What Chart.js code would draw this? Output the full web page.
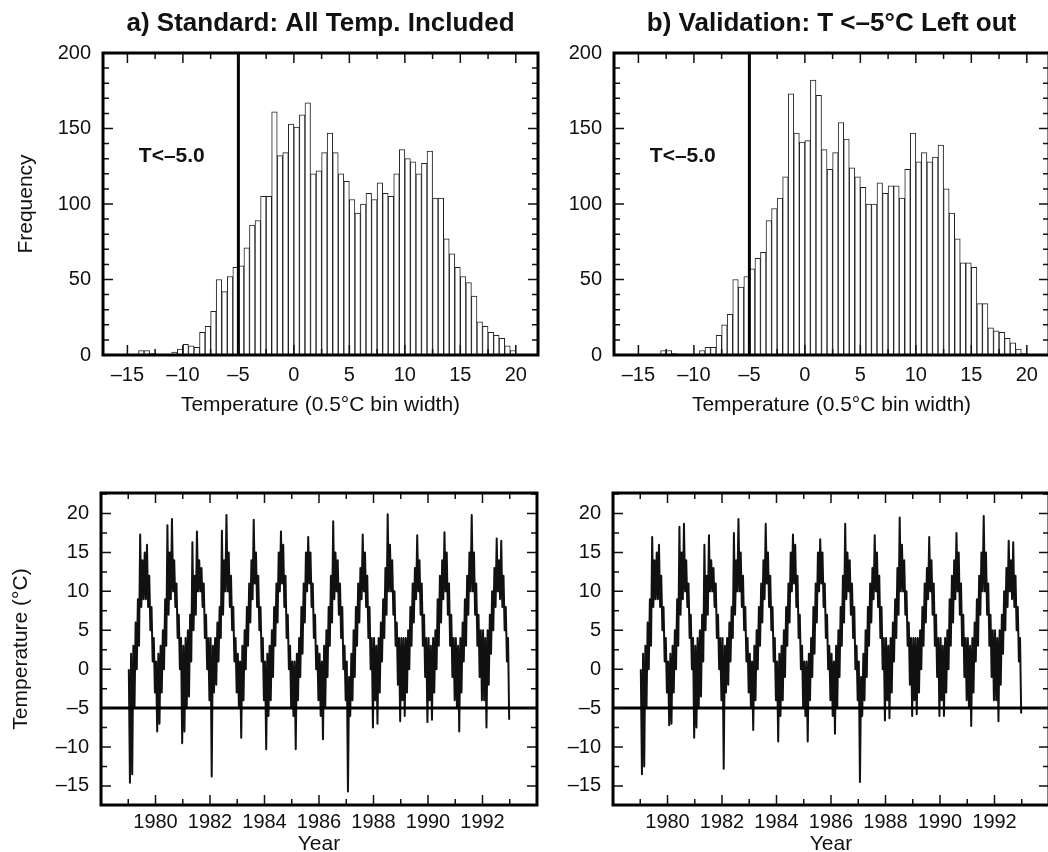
<!DOCTYPE html>
<html>
<head>
<meta charset="utf-8">
<script src="https://cdn.jsdelivr.net/npm/chart.js@4.4.1/dist/chart.umd.min.js"></script>
<style>
  html, body { margin: 0; padding: 0; background: #fff; overflow: hidden; }
  #page { position: relative; width: 1048px; height: 852px; overflow: hidden; }
  canvas { position: absolute; }
</style>
</head>
<body>
<div id="page">
  <canvas id="histA" width="560" height="440" style="left:0px;top:0px"></canvas>
  <canvas id="histB" width="560" height="440" style="left:511px;top:0px"></canvas>
  <canvas id="seriesA" width="560" height="440" style="left:0px;top:430px"></canvas>
  <canvas id="seriesB" width="560" height="440" style="left:512px;top:430px"></canvas>
</div>
<script>
// Temperature histograms (0.5 C bins) and daily temperature series, 1979-1992
const FONT = '"Liberation Sans", Arial, Helvetica, sans-serif';
const threshold = -5;
const binWidth = 0.5;

// panel a: counts per bin, first bin centred at -13.75
const binStartA = -13.75;
const countsA = [3, 3, 1, 0, 0, 0, 2, 4, 7, 6, 5, 15, 19, 29, 50, 42, 52, 58,
  59, 71, 86, 89, 105, 105, 161, 132, 134, 153, 151, 159, 167, 120, 122, 134, 147, 134, 120, 115,
  103, 94, 100, 107, 103, 114, 107, 105, 120, 136, 130, 128, 120, 127, 135, 104, 104, 77, 67, 58,
  52, 48, 39, 22, 19, 15, 13, 11, 6, 3];

// panel b: counts per bin, first bin centred at -12.75
const binStartB = -12.75;
const countsB = [3, 3, 1, 0, 0, 0, 0, 3, 5, 5, 13, 20, 27, 50, 45, 52,
  57, 64, 68, 89, 97, 104, 118, 173, 147, 141, 142, 182, 172, 136, 123, 134, 154, 143, 124, 118,
  111, 100, 100, 114, 107, 112, 112, 104, 123, 147, 128, 134, 128, 131, 139, 110, 94, 77, 61, 61,
  58, 34, 34, 18, 16, 15, 11, 8, 4, 1];

// time series: 24 half-month samples per year (alternating upper / lower part of the noisy trace)
const years = [1979, 1980, 1981, 1982, 1983, 1984, 1985, 1986, 1987, 1988, 1989, 1990, 1991, 1992];

const tempStandard = [
  [0, -14.6, 2, -13.5, 3, -5, 6, 0, 9, 3, 17.3, 8, 14, 9, 15, 9, 16, 8, 12, 5, 8, 1, 4, -3],
  [1, -8, 2, -7, 3, -3, 5, 0, 9, 3, 18.5, 7, 15, 9, 19.3, 10, 14, 8, 11, 4, 7, 0, 4, -9.5],
  [3, -8, 4, -5, 5, -3.5, 7, 1, 16.3, 5, 12, 7, 17.7, 10, 14, 10, 13, 8, 11, 4, 7, 0, 4, -4],
  [4, -13.8, 3, -3, 4, -2, 6, 1, 8, 4, 17.8, 7, 14, 10, 19.8, 10, 15, 8, 12, 5, 8, 1, 4, -3],
  [2, -5, 1, -8.8, 3, -4, 5, 0, 8, 3, 11, 6, 14, 9, 19.2, 11, 15, 8, 12, 5, 8, 1, 4, -4],
  [1, -10.3, 2, -6, 3, -4, 5, -1, 8, 3, 11, 6, 15, 10, 17.7, 11, 16, 8, 12, 4, 7, 0, 3, -5],
  [1, -6, 1, -10.3, 2, -4, 4, -1, 8, 2, 11, 6, 15, 10, 17, 11, 15, 8, 11, 4, 7, 0, 3, -4],
  [2, -6, 1, -9, 3, -5, 5, -1, 8, 3, 12, 6, 19, 9, 15, 10, 14, 7, 11, 4, 8, 0, 3, -4],
  [1, -15.7, -1, -6, 2, -4, 5, -1, 8, 3, 11, 6, 13, 9, 17.3, 10, 15, 8, 12, 4, 8, 0, 4, -7.5],
  [4, -4, 3, -7, 4, -3, 6, 1, 9, 4, 13, 7, 19.9, 10, 16, 10, 14, 7, 10, 3, 6, -2, 4, -6.7],
  [4, -4, 4, -6, 4, -3, 5, 0, 8, 3, 11, 6, 13, 9, 17.2, 10, 14, 7, 11, 3, 7, -1, 4, -6.8],
  [4, -4, 3, -6.5, 4, -3, 5, 0, 9, 3, 12, 6, 14, 9, 17.6, 10, 15, 7, 11, 3, 7, -1, 4, -4],
  [4, -5, 3, -8, 4, -3, 6, 1, 9, 3, 12, 7, 15, 10, 19.8, 10, 15, 7, 11, 3, 7, -1, 5, -4],
  [5, -4, 4, -7.5, 5, -2, 7, 2, 10, 5, 13, 8, 16.8, 10, 14, 9, 16.5, 8, 12, 5, 8, 1, 4, -6.5]
];

const tempValidation = [
  [0, -13.5, 2, -12.5, 3, -5, 6, 0, 9, 3, 17, 8, 14, 9, 15, 9, 16, 8, 12, 5, 8, 1, 4, -3],
  [1, -7.2, 2, -7, 3, -3, 5, 0, 9, 3, 18.3, 7, 15, 9, 18.7, 10, 14, 8, 11, 4, 7, 0, 4, -8.8],
  [3, -7.5, 4, -5, 5, -3.5, 7, 1, 16, 5, 12, 7, 17.2, 10, 14, 10, 13, 8, 11, 4, 7, 0, 4, -4],
  [4, -12.8, 3, -3, 4, -2, 6, 1, 8, 4, 17.5, 7, 14, 10, 19.3, 10, 15, 8, 12, 5, 8, 1, 4, -3],
  [2, -5, 1, -7.8, 3, -4, 5, 0, 8, 3, 11, 6, 14, 9, 18.7, 11, 15, 8, 12, 5, 8, 1, 4, -4],
  [1, -9.3, 2, -6, 3, -4, 5, -1, 8, 3, 11, 6, 15, 10, 17.3, 11, 16, 8, 12, 4, 7, 0, 3, -5],
  [1, -6, 1, -9.3, 2, -4, 4, -1, 8, 2, 11, 6, 15, 10, 16.7, 11, 15, 8, 11, 4, 7, 0, 3, -4],
  [2, -6, 1, -8.3, 3, -5, 5, -1, 8, 3, 12, 6, 18.7, 9, 15, 10, 14, 7, 11, 4, 8, 0, 3, -4],
  [1, -14.5, -1, -6, 2, -4, 5, -1, 8, 3, 11, 6, 13, 9, 17.2, 10, 15, 8, 12, 4, 8, 0, 4, -6.6],
  [4, -4, 3, -6.3, 4, -3, 6, 1, 9, 4, 13, 7, 19.5, 10, 16, 10, 14, 7, 10, 3, 6, -2, 4, -6],
  [4, -4, 4, -5.8, 4, -3, 5, 0, 8, 3, 11, 6, 13, 9, 17, 10, 14, 7, 11, 3, 7, -1, 4, -6],
  [4, -4, 3, -6, 4, -3, 5, 0, 9, 3, 12, 6, 14, 9, 17.5, 10, 15, 7, 11, 3, 7, -1, 4, -4],
  [4, -5, 3, -7.3, 4, -3, 6, 1, 9, 3, 12, 7, 15, 10, 19.7, 10, 15, 7, 11, 3, 7, -1, 5, -4],
  [5, -4, 4, -6.7, 5, -2, 7, 2, 10, 5, 13, 8, 16.5, 10, 14, 9, 16.3, 8, 12, 5, 8, 1, 4, -5.7]
];

Chart.defaults.font.family = FONT;
Chart.defaults.color = '#111';

function dash(v) {
  return v < 0 ? '\u2013' + (-v) : String(v);
}

// frame, inward tick marks (all four sides), panel title and note
const framePlugin = {
  id: 'frame',
  afterDraw(chart, args, opts) {
    const { ctx, chartArea: a, scales: { x, y } } = chart;
    ctx.save();
    ctx.strokeStyle = '#111';
    ctx.lineWidth = 1.5;
    const marks = (scale, minor, major, horizontal) => {
      const first = Math.ceil(scale.min / minor);
      const last = Math.floor(scale.max / minor);
      for (let k = first; k <= last; k++) {
        const v = k * minor;
        const r = v / major;
        const len = Math.abs(r - Math.round(r)) < 1e-6 ? 10 : 6;
        const p = scale.getPixelForValue(v);
        ctx.beginPath();
        if (horizontal) {
          ctx.moveTo(p, a.bottom); ctx.lineTo(p, a.bottom - len);
          ctx.moveTo(p, a.top); ctx.lineTo(p, a.top + len);
        } else {
          ctx.moveTo(a.left, p); ctx.lineTo(a.left + len, p);
          ctx.moveTo(a.right, p); ctx.lineTo(a.right - len, p);
        }
        ctx.stroke();
      }
    };
    marks(x, opts.xMinor, opts.xMajor, true);
    marks(y, opts.yMinor, opts.yMajor, false);

    ctx.lineWidth = 3;
    ctx.strokeStyle = '#000';
    ctx.strokeRect(a.left, a.top, a.right - a.left, a.bottom - a.top);

    ctx.fillStyle = '#111';
    ctx.textAlign = 'center';
    ctx.textBaseline = 'alphabetic';
    if (opts.title) {
      ctx.font = 'bold 26px ' + FONT;
      ctx.fillText(opts.title, (a.left + a.right) / 2, a.top - 22);
    }
    if (opts.note) {
      ctx.font = 'bold 21px ' + FONT;
      ctx.fillText(opts.note.text, x.getPixelForValue(opts.note.x), y.getPixelForValue(opts.note.y));
    }
    ctx.restore();
  }
};

function histChart(id, start, counts, title) {
  const bars = counts.map((c, i) => ({ x: start + i * binWidth, y: c }));
  new Chart(document.getElementById(id), {
    type: 'bar',
    data: {
      datasets: [{
        type: 'line',
        data: [{ x: threshold, y: 0 }, { x: threshold, y: 200 }],
        borderColor: '#000',
        borderWidth: 3,
        pointRadius: 0,
        order: -1
      }, {
        data: bars,
        backgroundColor: '#fff',
        borderColor: '#222',
        borderWidth: 1,
        barPercentage: 1,
        categoryPercentage: 1
      }]
    },
    options: {
      responsive: false,
      animation: false,
      layout: { padding: { top: 53, right: 22, bottom: 15, left: 0 } },
      plugins: {
        legend: { display: false },
        tooltip: { enabled: false },
        frame: { title: title, note: { text: 'T<\u20135.0', x: -11, y: 128 },
                 xMinor: 2.5, xMajor: 5, yMinor: 10, yMajor: 50 }
      },
      scales: {
        x: {
          type: 'linear', min: -17.2, max: 22, offset: false,
          grid: { display: false, drawTicks: false, offset: false },
          border: { display: false },
          ticks: { stepSize: 5, includeBounds: false, padding: 8, font: { size: 20 }, callback: v => dash(v) },
          title: { display: true, text: 'Temperature (0.5\u00b0C bin width)', font: { size: 21 }, padding: { top: 0, bottom: 7 } },
          afterFit: s => { s.height = 70; }
        },
        y: {
          min: 0, max: 200,
          grid: { display: false, drawTicks: false },
          border: { display: false },
          ticks: { stepSize: 50, padding: 12, font: { size: 20 } },
          title: { display: id === 'histA', text: 'Frequency', font: { size: 21 }, padding: { top: 14, bottom: 0 } },
          afterFit: s => { s.width = 103; }
        }
      }
    },
    plugins: [framePlugin]
  });
}

function seriesChart(id, rows, showYTitle) {
  const pts = [];
  rows.forEach((row, k) => row.forEach((v, i) => pts.push({ x: years[k] + (i + 0.5) / row.length, y: v })));
  new Chart(document.getElementById(id), {
    type: 'line',
    data: {
      datasets: [{
        data: [{ x: 1978, y: threshold }, { x: 1994, y: threshold }],
        borderColor: '#000',
        borderWidth: 3,
        pointRadius: 0,
        order: -1
      }, {
        data: pts,
        borderColor: '#111',
        borderWidth: 2,
        borderJoinStyle: 'round',
        pointRadius: 0,
        tension: 0
      }]
    },
    options: {
      responsive: false,
      animation: false,
      layout: { padding: { top: 63, right: 23, bottom: 5, left: 0 } },
      plugins: {
        legend: { display: false },
        tooltip: { enabled: false },
        frame: { xMinor: 1, xMajor: 2, yMinor: 2.5, yMajor: 5 }
      },
      scales: {
        x: {
          type: 'linear', min: 1978, max: 1994,
          grid: { display: false, drawTicks: false },
          border: { display: false },
          ticks: { stepSize: 2, padding: 5, font: { size: 20 },
                   callback: v => (v > 1978 && v < 1994 ? String(v) : '') },
          title: { display: true, text: 'Year', font: { size: 21 }, padding: { top: 0, bottom: 8 } },
          afterFit: s => { s.height = 60; }
        },
        y: {
          min: -17.45, max: 22.64,
          grid: { display: false, drawTicks: false },
          border: { display: false },
          ticks: { stepSize: 5, includeBounds: false, padding: 12, font: { size: 20 }, callback: v => dash(v) },
          title: { display: showYTitle, text: 'Temperature (\u00b0C)', font: { size: 21 }, padding: { top: 9, bottom: 0 } },
          afterFit: s => { s.width = 101; }
        }
      }
    },
    plugins: [framePlugin]
  });
}

histChart('histA', binStartA, countsA, 'a) Standard: All Temp. Included');
histChart('histB', binStartB, countsB, 'b) Validation: T <\u20135\u00b0C Left out');
seriesChart('seriesA', tempStandard, true);
seriesChart('seriesB', tempValidation, false);
</script>
</body>
</html>
